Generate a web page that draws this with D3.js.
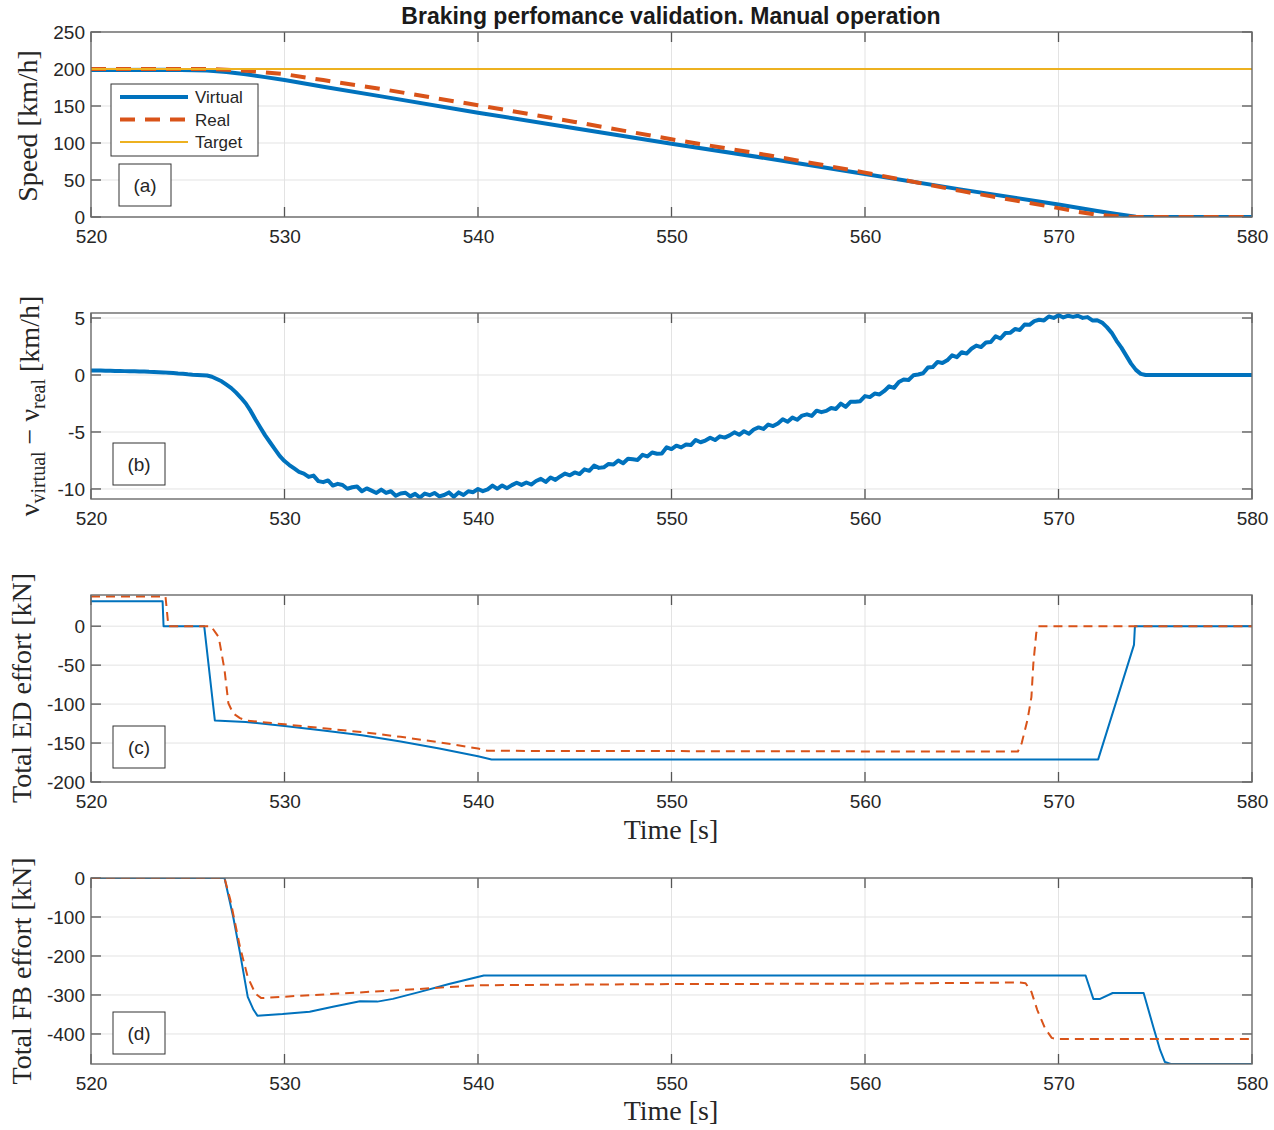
<!DOCTYPE html>
<html><head><meta charset="utf-8">
<script src="https://cdn.jsdelivr.net/npm/d3@7"></script>
<style>body{margin:0;background:#fff}</style>
</head><body>
<svg id="c" width="1274" height="1130"></svg>
<script>
// ---------------- DATA ----------------
const titleText = "Braking perfomance validation. Manual operation";
const xTicks = [520, 530, 540, 550, 560, 570, 580];
const speedTicks = [0, 50, 100, 150, 200, 250];
const diffTicks = [-10, -5, 0, 5];
const edTicks = [-200, -150, -100, -50, 0];
const fbTicks = [-400, -300, -200, -100, 0];
const legendLabels = ["Virtual", "Real", "Target"];
const panelTags = ["(a)", "(b)", "(c)", "(d)"];

// (a) speed [km/h]
const speedVirtualT = [520, 524, 526, 527, 528, 529, 530, 532, 535, 540, 545, 550, 555, 560, 565, 570, 572, 573, 574, 574.5, 580];
const speedVirtualV = [198.5, 199, 198, 196, 193, 189, 185, 176, 163, 141, 120, 99, 79, 58, 37, 17, 8, 4, 0.5, 0, 0];
const speedRealT = [520, 526, 527, 528, 529, 530, 532, 535, 540, 545, 550, 555, 560, 565, 570, 571, 572, 573, 574, 580];
const speedRealV = [200, 200, 199, 197.5, 195.5, 193, 185, 173, 151, 128.5, 105, 83.5, 60, 35, 12, 7, 3, 1, 0, 0];
const targetT = [520, 580];
const targetV = [200, 200];

// (b) v_virtual - v_real [km/h], read every 0.25 s from 520 to 580
const diffV = [
  // 520 - 525.75
  0.40, 0.40, 0.39, 0.38, 0.37, 0.36, 0.35, 0.34, 0.33, 0.32, 0.31, 0.30,
  0.28, 0.27, 0.25, 0.23, 0.20, 0.17, 0.13, 0.10, 0.06, 0.03, 0.01, -0.02,
  // 526 - 530.75
  -0.05, -0.15, -0.35, -0.55, -0.85, -1.15, -1.55, -2.0, -2.5, -3.15,
  -3.9, -4.6, -5.3, -5.9, -6.5, -7.1, -7.55, -7.9, -8.2, -8.5,
  // 531 - 571.75
  -8.65, -8.94, -8.83, -9.31,
  -9.4, -9.25, -9.7, -9.55,
  -9.65, -9.98, -9.85, -9.78,
  -10.2, -9.95, -10.15, -10.35,
  -10.05, -10.35, -10.2, -10.6,
  -10.4, -10.33, -10.65, -10.43,
  -10.75, -10.4, -10.55, -10.35,
  -10.65, -10.53, -10.3, -10.68,
  -10.3, -10.53, -10.2, -10.28,
  -10.0, -10.19, -10.03, -9.71,
  -10.0, -9.69, -9.93, -9.66,
  -9.45, -9.64, -9.43, -9.61,
  -9.3, -9.11, -9.38, -8.99,
  -9.2, -8.9, -8.65, -8.8,
  -8.55, -8.69, -8.28, -8.41,
  -7.95, -8.15, -8.1, -7.8,
  -7.85, -7.5, -7.75, -7.35,
  -7.4, -7.45, -7.0, -7.15,
  -6.8, -6.91, -6.88, -6.34,
  -6.5, -6.2, -6.35, -6.1,
  -6.15, -5.7, -5.9, -5.75,
  -5.5, -5.71, -5.38, -5.49,
  -5.3, -5.03, -5.25, -4.93,
  -5.15, -4.78, -4.6, -4.73,
  -4.35, -4.48, -4.25, -3.88,
  -4.1, -3.74, -3.93, -3.56,
  -3.45, -3.59, -3.13, -3.26,
  -3.15, -2.89, -2.98, -2.51,
  -2.8, -2.35, -2.35, -2.3,
  -1.85, -1.94, -1.63, -1.71,
  -1.4, -0.99, -1.13, -0.61,
  -0.4, -0.44, -0.03, 0.04,
  0.15, 0.65, 0.7, 1.15,
  1.05, 1.29, 1.73, 1.56,
  2.0, 1.88, 2.3, 2.58,
  2.45, 2.85, 2.9, 3.4,
  3.2, 3.68, 3.7, 4.03,
  3.95, 4.43, 4.4, 4.73,
  4.85, 4.79, 5.13, 5.01,
  5.25, 5.05, 5.2, 5.1,
  5.2, 5.01, 5.08, 4.79,
  // 572 - 574.5
  4.8, 4.6, 4.2, 3.7, 3.0, 2.4, 1.7, 1.0, 0.45, 0.1, 0.0,
  // 574.75 - 580
  0, 0, 0, 0, 0, 0, 0, 0, 0, 0, 0, 0, 0, 0, 0, 0, 0, 0, 0, 0, 0, 0
];
const diffT = diffV.map((_, i) => 520 + i * 0.25);

// (c) total ED effort [kN]
const edVirtualT = [520, 523.7, 523.75, 525.85, 526.4, 528, 530, 532, 534, 536, 538, 540, 540.7, 572.05, 573.9, 573.95, 580];
const edVirtualV = [32, 32, 0, 0, -121, -123, -128, -134, -140, -148, -157, -167, -171, -171, -24, 0, 0];
const edRealT = [520, 523.85, 524, 526.2, 526.6, 526.9, 527.1, 527.35, 527.7, 528, 530, 532, 534, 536, 538, 540, 540.5, 567.9, 568.1, 568.4, 568.6, 568.7, 568.85, 568.95, 580];
const edRealV = [38, 38, 0, 0, -14, -56, -99, -112, -118, -121, -126, -131, -136, -142, -149, -157, -160, -161, -150, -120, -91, -48, -9, 0, 0];

// (d) total FB effort [kN]
const fbVirtualT = [520, 526.9, 527.35, 527.7, 528.1, 528.4, 528.6, 529.9, 531.3, 532.5, 533.9, 534.8, 535.6, 537, 538.5, 540.3, 571.4, 571.8, 572.15, 572.8, 574.4, 574.9, 575.25, 575.5, 575.8, 580];
const fbVirtualV = [0, 0, -100, -192, -305, -338, -353, -349, -343, -330, -316, -317, -310, -292, -272, -250, -250, -310, -310, -295, -295, -382, -441, -472, -477, -477];
const fbRealT = [520, 526.9, 527.2, 527.7, 528.1, 528.5, 528.8, 530.8, 533, 536.8, 540, 550, 560, 568, 568.3, 568.6, 568.9, 569.3, 569.65, 569.9, 580];
const fbRealV = [0, 0, -56, -177, -254, -297, -308, -302, -296, -285, -275, -272, -271, -268, -270, -292, -338, -385, -410, -413, -413];

// ---------------- DRAWING ----------------
const BLUE = "#0072BD", ORANGE = "#D95319", YELLOW = "#EDB120";
const svg = d3.select("#c");
const L = 91, R = 1252;
const x = d3.scaleLinear().domain([520, 580]).range([L, R]);
const sans = "'Liberation Sans', Arial, Helvetica, sans-serif";
const serif = "'Liberation Serif', 'Times New Roman', serif";
const fmt = d => String(d); // plain hyphen-minus like the reference

svg.append("text").attr("x", 671).attr("y", 24).attr("text-anchor", "middle")
  .attr("font-family", sans).attr("font-weight", "bold").attr("font-size", 23)
  .attr("fill", "#1a1a1a").text(titleText);

function zip(t, v) { return t.map((d, i) => [d, v[i]]); }

function makePanel(id, top, bottom, domain, ticks) {
  const y = d3.scaleLinear().domain(domain).range([bottom, top]);
  const g = svg.append("g");
  svg.append("clipPath").attr("id", "clip" + id).append("rect")
    .attr("x", L).attr("y", top).attr("width", R - L).attr("height", bottom - top);
  // grid
  g.append("g").selectAll("line").data(xTicks.slice(1, -1)).join("line")
    .attr("x1", d => x(d)).attr("x2", d => x(d)).attr("y1", top).attr("y2", bottom)
    .attr("stroke", "#e3e3e3").attr("stroke-width", 1);
  g.append("g").selectAll("line").data(ticks).join("line")
    .attr("x1", L).attr("x2", R).attr("y1", d => y(d)).attr("y2", d => y(d))
    .attr("stroke", "#e3e3e3").attr("stroke-width", 1);
  // axes with inner ticks
  const ax = d3.axisBottom(x).tickValues(xTicks).tickSize(0).tickPadding(0).tickFormat(fmt);
  const xa = g.append("g").attr("transform", `translate(0,${bottom})`).call(ax);
  xa.select(".domain").remove();
  xa.selectAll("text").attr("y", 26).attr("dy", 0).attr("font-family", sans)
    .attr("font-size", 19).attr("fill", "#262626");
  const ay = d3.axisLeft(y).tickValues(ticks).tickSize(0).tickPadding(0).tickFormat(fmt);
  const ya = g.append("g").attr("transform", `translate(${L},0)`).call(ay);
  ya.select(".domain").remove();
  ya.selectAll("text").attr("x", -6).attr("dy", "0.34em").attr("font-family", sans)
    .attr("font-size", 19).attr("fill", "#262626");
  const tk = g.append("g").attr("stroke", "#555").attr("stroke-width", 1.3);
  xTicks.forEach(t => {
    tk.append("line").attr("x1", x(t)).attr("x2", x(t)).attr("y1", bottom).attr("y2", bottom - 10);
    tk.append("line").attr("x1", x(t)).attr("x2", x(t)).attr("y1", top).attr("y2", top + 10);
  });
  ticks.forEach(t => {
    tk.append("line").attr("x1", L).attr("x2", L + 10).attr("y1", y(t)).attr("y2", y(t));
    tk.append("line").attr("x1", R).attr("x2", R - 10).attr("y1", y(t)).attr("y2", y(t));
  });
  const lines = svg.append("g").attr("clip-path", `url(#clip${id})`);
  svg.append("rect").attr("x", L).attr("y", top).attr("width", R - L).attr("height", bottom - top)
    .attr("fill", "none").attr("stroke", "#6a6a6a").attr("stroke-width", 1.4);
  return { y, lines, top, bottom };
}

function drawLine(p, t, v, color, w, dash) {
  const gen = d3.line().x(d => x(d[0])).y(d => p.y(d[1]));
  const path = p.lines.append("path").datum(zip(t, v)).attr("d", gen)
    .attr("fill", "none").attr("stroke", color).attr("stroke-width", w)
    .attr("stroke-linejoin", "round");
  if (dash) path.attr("stroke-dasharray", dash);
}

function tag(txt, bx, by) {
  svg.append("rect").attr("x", bx).attr("y", by).attr("width", 52).attr("height", 42)
    .attr("fill", "#fff").attr("stroke", "#333").attr("stroke-width", 1);
  svg.append("text").attr("x", bx + 26).attr("y", by + 28).attr("text-anchor", "middle")
    .attr("font-family", sans).attr("font-size", 19).attr("fill", "#262626").text(txt);
}

function ylabel(cx, cy, txt) {
  svg.append("text").attr("transform", `translate(${cx},${cy}) rotate(-90)`)
    .attr("text-anchor", "middle").attr("font-family", serif).attr("font-size", 28)
    .attr("fill", "#262626").text(txt);
}
function xlabel(yy) {
  svg.append("text").attr("x", 671).attr("y", yy).attr("text-anchor", "middle")
    .attr("font-family", serif).attr("font-size", 28).attr("fill", "#262626").text("Time [s]");
}

// Panel (a)
const pa = makePanel("a", 32, 217, [0, 250], speedTicks);
drawLine(pa, speedVirtualT, speedVirtualV, BLUE, 4);
drawLine(pa, speedRealT, speedRealV, ORANGE, 4, "15,10");
drawLine(pa, targetT, targetV, YELLOW, 2);
ylabel(37, 126, "Speed [km/h]");
// legend
const lg = svg.append("g");
lg.append("rect").attr("x", 111).attr("y", 84).attr("width", 147).attr("height", 72)
  .attr("fill", "#fff").attr("stroke", "#333").attr("stroke-width", 1);
const legStyles = [[BLUE, 4, null], [ORANGE, 4, "15,10"], [YELLOW, 2, null]];
legendLabels.forEach((lab, i) => {
  const yy = 97 + i * 22.5;
  const ln = lg.append("line").attr("x1", 120).attr("x2", 188).attr("y1", yy).attr("y2", yy)
    .attr("stroke", legStyles[i][0]).attr("stroke-width", legStyles[i][1]);
  if (legStyles[i][2]) ln.attr("stroke-dasharray", legStyles[i][2]);
  lg.append("text").attr("x", 195).attr("y", yy + 6).attr("font-family", sans)
    .attr("font-size", 17).attr("fill", "#262626").text(lab);
});
tag(panelTags[0], 119, 164);

// Panel (b)
const pb = makePanel("b", 313, 499, [-10.88, 5.44], diffTicks);
drawLine(pb, diffT, diffV, BLUE, 4);
{
  const t = svg.append("text").attr("transform", "translate(39,406) rotate(-90)")
    .attr("text-anchor", "middle").attr("font-family", serif).attr("font-size", 28).attr("fill", "#262626");
  t.append("tspan").text("ν");
  t.append("tspan").attr("font-size", 20).attr("dy", 6).text("virtual");
  t.append("tspan").attr("dy", -6).text(" − ν");
  t.append("tspan").attr("font-size", 20).attr("dy", 6).text("real");
  t.append("tspan").attr("dy", -6).text(" [km/h]");
}
tag(panelTags[1], 113, 443);

// Panel (c)
const pc = makePanel("c", 595, 782, [-200, 40], edTicks);
drawLine(pc, edVirtualT, edVirtualV, BLUE, 2);
drawLine(pc, edRealT, edRealV, ORANGE, 2, "9,6");
ylabel(31, 688, "Total ED effort [kN]");
xlabel(839);
tag(panelTags[2], 113, 726);

// Panel (d)
const pd = makePanel("d", 878, 1064, [-477, 0], fbTicks);
drawLine(pd, fbVirtualT, fbVirtualV, BLUE, 2);
drawLine(pd, fbRealT, fbRealV, ORANGE, 2, "9,6");
ylabel(31, 971, "Total FB effort [kN]");
xlabel(1120);
tag(panelTags[3], 113, 1012);
</script>
</body></html>
